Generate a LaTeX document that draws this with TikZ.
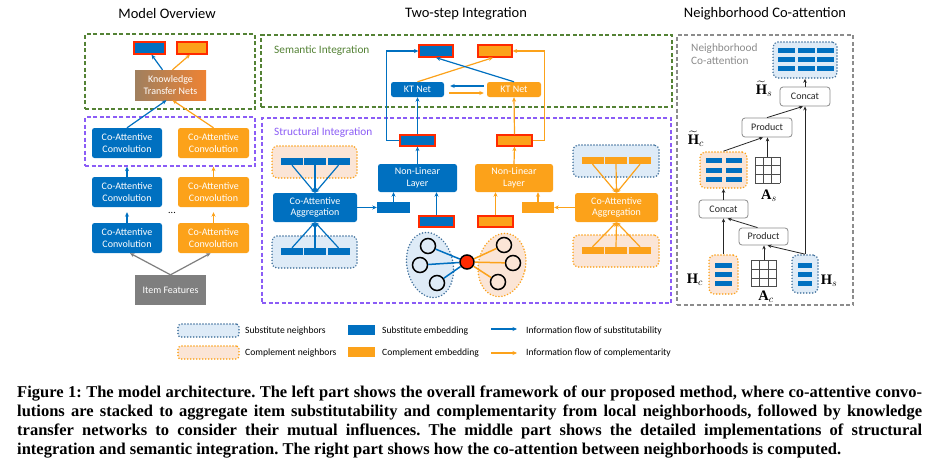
\documentclass[tikz,border=0pt]{standalone}
\usepackage{amsmath,amssymb}
\usepackage{fontspec}
\setmainfont{Liberation Serif}
\newfontfamily\carlito{Carlito}
\usetikzlibrary{calc, arrows.meta, shapes.geometric}

\definecolor{subblue}{HTML}{0070C0}
\definecolor{cmporange}{HTML}{FCA21A}
\definecolor{lightblue}{HTML}{DEEBF7}
\definecolor{lightorange}{HTML}{FBE5D6}
\definecolor{dotblue}{HTML}{41719C}
\definecolor{semgreen}{HTML}{548235}
\definecolor{strpurple}{HTML}{8B5CF6}
\definecolor{hired}{HTML}{FF2A00}
\definecolor{ktbrown}{HTML}{A0805F}
\definecolor{ktorange}{HTML}{EE8233}
\definecolor{featgray}{HTML}{7F7F7F}
\definecolor{framegray}{HTML}{8C8C8C}

\begin{document}
\begin{tikzpicture}[x=1pt, y=-1pt,
    every node/.style={inner sep=0pt, font=\carlito\fontsize{10}{11.5}\selectfont},
    title/.style={font=\carlito\fontsize{14.5}{16}\selectfont},
    sz/.style 2 args={minimum width=#1, minimum height=#2},
    sblk/.style={rectangle, rounded corners=2.5pt, fill=subblue, text=white, align=center},
    cblk/.style={rectangle, rounded corners=2.5pt, fill=cmporange, text=white, align=center},
    semframe/.style={draw=semgreen, line width=1.3pt, dash pattern=on 4pt off 2.5pt},
    strframe/.style={draw=strpurple, line width=1.3pt, dash pattern=on 4pt off 2.5pt},
    coframe/.style={draw=framegray, line width=1.1pt, dash pattern=on 4pt off 2.5pt},
    sout/.style={fill=subblue, draw=hired, line width=1.3pt},
    cout/.style={fill=cmporange, draw=hired, line width=1.3pt},
    sbar/.style={fill=subblue},
    cbar/.style={fill=cmporange},
    subgrp/.style={fill=lightblue, draw=dotblue, line width=1.7pt, line cap=round, dash pattern=on 0pt off 3pt, rounded corners=5pt},
    cmpgrp/.style={fill=lightorange, draw=cmporange, line width=1.7pt, line cap=round, dash pattern=on 0pt off 3pt, rounded corners=5pt},
    sflow/.style={draw=subblue, line width=1.2pt, -{Stealth[length=4.5pt, width=4pt]}},
    cflow/.style={draw=cmporange, line width=1.2pt, -{Stealth[length=4.5pt, width=4pt]}},
    gflow/.style={draw=featgray, line width=1.2pt, -{Stealth[length=4.5pt, width=4pt]}},
    opbox/.style={rectangle, rounded corners=3pt, draw=framegray, line width=0.8pt, fill=white, text=black!85},
    kflow/.style={draw=black!85, line width=0.8pt, -{Stealth[length=4pt, width=3.5pt]}},
    matline/.style={draw=black!70, line width=0.6pt},
    nbr/.style={circle, draw=black, line width=1.5pt, minimum size=15},
    mlab/.style={font=\fontsize{14.5}{16}\selectfont},
    lbl/.style={font=\carlito\fontsize{11.3}{13}\selectfont},
    lgd/.style={anchor=west, font=\carlito\fontsize{9.6}{11}\selectfont},
    capline/.style={anchor=base west, font=\rmfamily\bfseries\frenchspacing\fontsize{16.5}{19}\selectfont}
]
\useasboundingbox[fill=white] (0,0) rectangle (939,474);

% model overview
\node[title] (tMO) at (167,14) {Model Overview};
\node[semframe, sz={170}{75}] (semL) at (170,71.5) {};
\node[strframe, sz={170}{49}] (strL) at (170,141.5) {};
\node[sout, sz={31}{12}] (oLs) at (149.5,48) {};
\node[cout, sz={30}{12}] (oLc) at (192,48) {};
\node[sz={71}{30}, left color=ktbrown, right color=ktorange, text=white, align=center] (ktn) at (170.5,85) {Knowledge\\Transfer Nets};
\node[sblk, sz={70}{30}] (lcs1) at (127,143) {Co-Attentive\\Convolution};
\node[cblk, sz={71}{30}] (lcc1) at (213.5,143) {Co-Attentive\\Convolution};
\node[sblk, sz={70}{30}] (lcs2) at (127,192) {Co-Attentive\\Convolution};
\node[cblk, sz={71}{30}] (lcc2) at (213.5,192) {Co-Attentive\\Convolution};
\node[sblk, sz={70}{30}] (lcs3) at (127,238) {Co-Attentive\\Convolution};
\node[cblk, sz={71}{30}] (lcc3) at (213.5,238) {Co-Attentive\\Convolution};
\node (dots) at (172,213) {...};
\node[sz={71}{30}, fill=featgray, text=white] (feat) at (170.5,290) {Item Features};

\draw[sflow] ($(ktn.north)+(-8,0)$) -- ($(oLs.south)+(2,0)$);
\draw[cflow] ($(ktn.north)+(2,0)$) -- ($(oLc.south)+(-2,0)$);
\draw[sflow] (lcs1.north) -- ($(ktn.south)+(-4,0)$);
\draw[cflow] (lcc1.north) -- ($(ktn.south)+(2,0)$);
\draw[sflow] (lcs2.north) -- (lcs2.north |- strL.south);
\draw[cflow] (lcc2.north) -- (lcc2.north |- strL.south);
\draw[sflow, shorten >=5pt] (lcs3.north) -- (lcs2.south);
\draw[cflow, shorten >=5pt] (lcc3.north) -- (lcc2.south);
\draw[gflow] (feat.north) -- ($(lcs3.south)+(3,0)$);
\draw[gflow] (feat.north) -- ($(lcc3.south)+(-3,0)$);

% two-step integration
\node[title] (tTS) at (466,14) {Two-step Integration};
\node[semframe, sz={411}{72}] (semM) at (466.5,71) {};
\node[strframe, sz={409}{185}] (strM) at (466.5,210.5) {};
\node[lbl, anchor=west, text=semgreen] (semT) at (274,51) {Semantic Integration};
\node[lbl, anchor=west, text=strpurple] (strT) at (274,133) {Structural Integration};
\node[sout, sz={34}{12}] (oMs) at (436,51) {};
\node[cout, sz={34}{12}] (oMc) at (495,51) {};
\node[sblk, sz={53}{15}] (kts) at (417.5,89.5) {KT Net};
\node[cblk, sz={54}{15}] (ktc) at (514,89.5) {KT Net};
\node[sout, sz={35}{11}] (hs) at (417.5,140.5) {};
\node[cout, sz={35}{11}] (hc) at (514.5,140.5) {};
\node[sblk, sz={79}{28}] (nls) at (417.5,178) {Non-Linear\\Layer};
\node[cblk, sz={78}{28}] (nlc) at (514,178) {Non-Linear\\Layer};
\node[sblk, sz={84}{29}] (cas) at (315,207.5) {Co-Attentive\\Aggregation};
\node[cblk, sz={83}{29}] (cac) at (616.5,207.5) {Co-Attentive\\Aggregation};
\node[sbar, sz={33}{11}] (ags) at (393.5,207.5) {};
\node[cbar, sz={32}{11}] (agc) at (538,207.5) {};
\node[sout, sz={35}{11}] (is) at (436.5,221.5) {};
\node[cout, sz={35}{11}] (ic) at (495.5,221.5) {};

\node[cmpgrp, sz={85}{32}] (gTL) at (314.5,162) {};
\node[subgrp, sz={85}{32}] (gBL) at (314.5,252) {};
\node[subgrp, sz={86}{32}] (gTR) at (616,161) {};
\node[cmpgrp, sz={86}{32}] (gBR) at (616,251) {};
\foreach \i/\x in {1/292,2/315,3/338.5} {
  \node[sbar, sz={22}{7}] (tl\i) at (\x,161.5) {};
  \node[sbar, sz={22}{7}] (bl\i) at (\x,251.5) {};
  \draw[sflow] (tl\i.south) -- (cas.north);
  \draw[sflow] (bl\i.north) -- (cas.south);
}
\foreach \i/\x in {1/592.5,2/616,3/640} {
  \node[cbar, sz={22}{7}] (tr\i) at (\x,160.5) {};
  \node[cbar, sz={22}{7}] (br\i) at (\x,250.5) {};
  \draw[cflow] (tr\i.south) -- (cac.north);
  \draw[cflow] (br\i.north) -- (cac.south);
}

\draw[sflow] (cas.east) -- (ags.west);
\draw[cflow] (cac.west) -- (agc.east);
\draw[sflow] (ags.north) -- (ags.north |- nls.south);
\draw[cflow] (agc.north) -- (agc.north |- nlc.south);
\draw[sflow] (is.north) -- (is.north |- nls.south);
\draw[cflow] (ic.north) -- (ic.north |- nlc.south);
\draw[sflow] (nls.north) -- (hs.south);
\draw[cflow] (nlc.north) -- (hc.south);
\draw[sflow] (hs.north) -- (kts.south);
\draw[cflow] (hc.north) -- (ktc.south);
\draw[sflow] (hs.west) -- ++(-13,0) |- (oMs.west);
\draw[cflow] (hc.east) -- ++(12,0) |- (oMc.east);
\draw[sflow] ($(ktc.west)+(-3,-3.5)$) -- ($(kts.east)+(6,-3.5)$);
\draw[cflow] ($(kts.east)+(5,3.5)$) -- ($(ktc.west)+(-3,3.5)$);
\draw[cflow] (kts.north) -- ($(oMc.south)+(-2,0)$);
\draw[sflow] (ktc.north) -- (oMs.south);

\node[ellipse, subgrp, sz={46}{66}, rotate=12] (nbS) at (430,265) {};
\node[ellipse, cmpgrp, sz={47}{64}, rotate=-12] (nbC) at (502,265) {};
\node[nbr, fill=lightblue] (s1) at (428,246) {};
\node[nbr, fill=lightblue] (s2) at (420,265) {};
\node[nbr, fill=lightblue] (s3) at (437,283) {};
\node[nbr, fill=lightorange] (c1) at (504,245) {};
\node[nbr, fill=lightorange] (c2) at (513,263) {};
\node[nbr, fill=lightorange] (c3) at (498,282) {};
\node[nbr, fill=hired, minimum size=14] (ctr) at (467,262) {};
\foreach \n in {s1,s2,s3}
  \draw[subblue, line width=1.5pt] (ctr) -- (\n);
\foreach \n in {c1,c2,c3}
  \draw[cmporange, line width=1.5pt] (ctr) -- (\n);

% neighborhood co-attention
\node[title] (tNC) at (765,14) {Neighborhood Co-attention};
\node[coframe, sz={176}{270}] (coM) at (765,170) {};
\node[lbl, anchor=north west, align=left, text=framegray] (coT) at (691,43) {Neighborhood\\Co-attention};
\node[subgrp, sz={64}{36}] (Hst) at (805,60) {};
\foreach \x in {786.5,806,825}
  \foreach \y in {50.5,59.5,68.5}
    \node[sbar, sz={17}{5}] at (\x,\y) {};
\node[opbox, sz={50}{19}] (cat1) at (805,96.5) {Concat};
\node[opbox, sz={50}{19}] (prd1) at (767,127.5) {Product};
\node[cmpgrp, sz={47}{36}] (Hct) at (723.5,170) {};
\foreach \x in {714,734}
  \foreach \y in {160.5,170,179.5}
    \node[sbar, sz={16}{5}] at (\x,\y) {};
\node[opbox, sz={49}{18}] (cat2) at (723.5,209) {Concat};
\node[opbox, sz={49}{17}] (prd2) at (763.5,236.5) {Product};
\node[cmpgrp, sz={29}{39}] (Hc) at (723.5,274.5) {};
\node[subgrp, sz={26}{38}] (Hs) at (805,274) {};
\foreach \y in {265.5,274.5,283.5} {
  \node[sbar, sz={17}{5}] at (723.5,\y) {};
  \node[sbar, sz={14}{5}] at (805,\y) {};
}
\foreach \m/\cx/\cy in {As/767.5/170, Ac/764/273.5} {
  \node[sz={25}{26}] (\m) at (\cx,\cy) {};
  \foreach \t in {0,1,2,3} {
    \draw[matline] ($(\m.north west)!{\t/3}!(\m.north east)$) -- ($(\m.south west)!{\t/3}!(\m.south east)$);
    \draw[matline] ($(\m.north west)!{\t/3}!(\m.south west)$) -- ($(\m.north east)!{\t/3}!(\m.south east)$);
  }
}
\node[mlab] (lHst) at (764,89) {$\widetilde{\mathbf{H}}_{s}$};
\node[mlab] (lHct) at (696,139) {$\widetilde{\mathbf{H}}_{c}$};
\node[mlab] (lAs) at (769,196) {$\mathbf{A}_{s}$};
\node[mlab] (lAc) at (766,297) {$\mathbf{A}_{c}$};
\node[mlab] (lHc) at (695,280) {$\mathbf{H}_{c}$};
\node[mlab] (lHs) at (829,281) {$\mathbf{H}_{s}$};

\draw[kflow] (cat1.north) -- (Hst.south);
\draw[kflow] (prd1.north) -- ($(cat1.south)+(-2,0)$);
\draw[kflow] (Hs.north) -- (Hs.north |- cat1.south);
\draw[kflow] (Hct.north) -- ($(prd1.south)+(-4,0)$);
\draw[kflow] (As.north) -- (As.north |- prd1.south);
\draw[kflow] (cat2.north) -- (Hct.south);
\draw[kflow] ($(prd2.north)+(-6,0)$) -- ($(cat2.south)+(4,0)$);
\draw[kflow] (Hc.north) -- (Hc.north |- cat2.south);
\draw[kflow] (Ac.north) -- (Ac.north |- prd2.south);
\draw[kflow] (Hs.north) -- ($(prd2.south)+(4,0)$);

% legend
\node[subgrp, sz={61}{13}, rounded corners=3pt] (lgS) at (208.5,330.5) {};
\node[cmpgrp, sz={61}{13}, rounded corners=3pt] (lgC) at (208.5,352.5) {};
\node[lgd] (lgSt) at (245,331) {Substitute neighbors};
\node[lgd] (lgCt) at (245,353) {Complement neighbors};
\node[sbar, sz={27}{10}] (lgE) at (361.5,330) {};
\node[cbar, sz={27}{10}] (lgF) at (361.5,352) {};
\node[lgd] (lgEt) at (382,331) {Substitute embedding};
\node[lgd] (lgFt) at (382,353) {Complement embedding};
\coordinate (lfs0) at (491,329);
\coordinate (lfs1) at (517,329);
\coordinate (lfc0) at (491,353);
\coordinate (lfc1) at (517,353);
\draw[sflow] (lfs0) -- (lfs1);
\draw[cflow] (lfc0) -- (lfc1);
\node[lgd] (lgSf) at (526,331) {Information flow of substitutability};
\node[lgd] (lgCf) at (526,353) {Information flow of complementarity};

% caption
\node[capline] (cap1) at (17,397.5) {\makebox[905pt][s]{Figure 1: The model architecture. The left part shows the overall framework of our proposed method, where co-attentive convo-}};
\node[capline] (cap2) at (17,416.5) {\makebox[905pt][s]{lutions are stacked to aggregate item substitutability and complementarity from local neighborhoods, followed by knowledge}};
\node[capline] (cap3) at (17,435.5) {\makebox[905pt][s]{transfer networks to consider their mutual influences. The middle part shows the detailed implementations of structural}};
\node[capline] (cap4) at (17,454.5) {integration and semantic integration. The right part shows how the co-attention between neighborhoods is computed.};
\end{tikzpicture}
\end{document}
